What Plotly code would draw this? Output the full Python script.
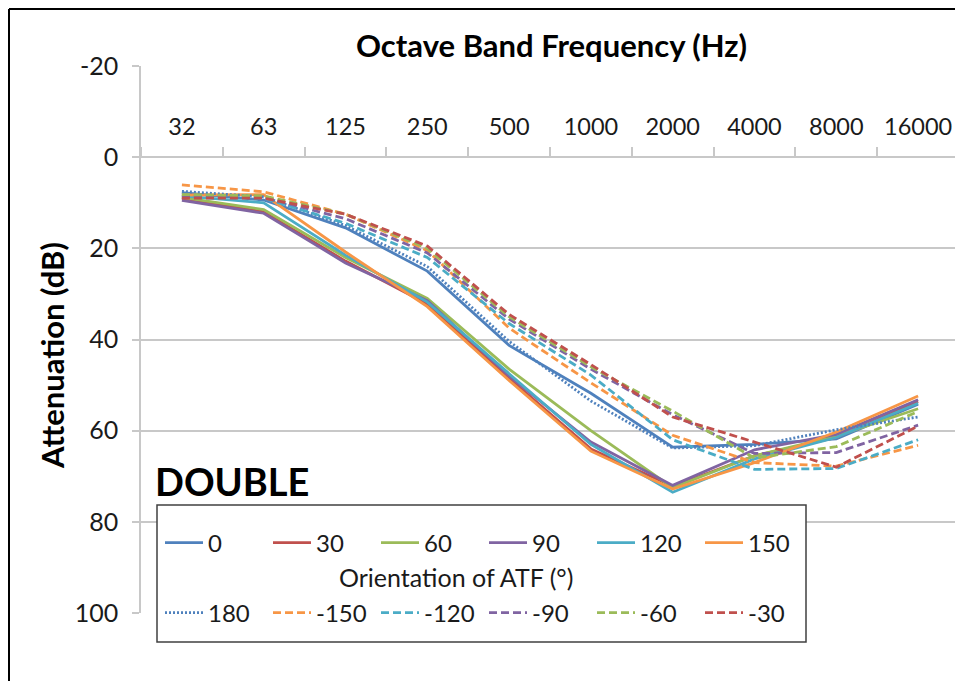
import plotly.graph_objects as go

categories = ["32", "63", "125", "250", "500", "1000", "2000", "4000", "8000", "16000"]

# Attenuation (dB) per orientation of ATF (degrees)
att_0    = [7.8, 9.4, 15.5, 25.0, 41.3, 51.8, 63.6, 63.0, 61.8, 54.2]
att_30   = [9.0, 12.0, 22.8, 32.2, 48.5, 64.0, 72.2, 65.5, 61.5, 53.6]
att_60   = [8.8, 11.5, 22.0, 31.0, 46.5, 60.0, 72.5, 65.5, 61.2, 55.2]
att_90   = [9.5, 12.3, 23.2, 31.5, 48.0, 62.5, 72.0, 64.2, 60.8, 53.2]
att_120  = [8.5, 10.0, 21.5, 31.8, 47.5, 63.0, 73.5, 66.2, 61.5, 54.0]
att_150  = [8.3, 8.2, 20.8, 32.8, 49.0, 64.5, 72.8, 67.0, 60.3, 52.4]
att_180  = [7.5, 8.7, 15.0, 24.0, 40.4, 53.5, 63.8, 63.3, 59.8, 57.0]
att_m150 = [6.1, 7.6, 12.5, 20.5, 37.5, 49.5, 61.0, 67.0, 67.8, 63.2]
att_m120 = [8.3, 9.0, 14.5, 22.0, 36.5, 47.8, 62.0, 68.5, 68.3, 62.0]
att_m90  = [8.6, 8.8, 13.5, 21.0, 35.5, 46.5, 56.5, 65.0, 64.8, 58.8]
att_m60  = [8.2, 8.5, 12.5, 20.0, 35.0, 46.0, 55.7, 66.0, 63.5, 55.8]
att_m30  = [9.0, 9.0, 12.5, 19.5, 34.5, 45.5, 57.0, 62.5, 68.0, 59.0]

y_ticks = [-20, 0, 20, 40, 60, 80, 100]
y_tick_text = ["-20", "0", "20", "40", "60", "80", "100"]

BLUE, RED, GREEN, PURPLE, TEAL, ORANGE = "#4F81BD", "#C0504D", "#9BBB59", "#8064A2", "#4BACC6", "#F79646"
FONT = "Lato"
LW = 2.8

row1 = [("0", att_0, BLUE), ("30", att_30, RED), ("60", att_60, GREEN),
        ("90", att_90, PURPLE), ("120", att_120, TEAL), ("150", att_150, ORANGE)]
row2 = [("180", att_180, BLUE, "2px,2px"), ("-150", att_m150, ORANGE, "8px,4px"),
        ("-120", att_m120, TEAL, "8px,4px"), ("-90", att_m90, PURPLE, "8px,4px"),
        ("-60", att_m60, GREEN, "8px,4px"), ("-30", att_m30, RED, "8px,4px")]

fig = go.Figure()
for name, vals, col in row1:
    fig.add_trace(go.Scatter(x=categories, y=vals, name=name, mode="lines",
                             line=dict(color=col, width=LW), legend="legend"))
for name, vals, col, dash in row2:
    fig.add_trace(go.Scatter(x=categories, y=vals, name=name, mode="lines",
                             line=dict(color=col, width=LW, dash=dash), legend="legend2"))

# page has an 8px body margin; plot area in screenshot pixels: x 141..959, y 66..613
OFF = 8
FW, FH = 963 - OFF, 681 - OFF
PX0, PX1, PY0, PY1 = 141, 959, 66, 613
L = PX0 - OFF
T = PY0 - OFF
R = FW - (PX1 - OFF)
B = FH - (PY1 - OFF)
def px(x): return (x - PX0) / (PX1 - PX0)
def py(y): return (PY1 - y) / (PY1 - PY0)

GRID = "#c8c8c8"
LEG = dict(orientation="h", x=px(160), xanchor="left", yanchor="middle",
           entrywidth=55, entrywidthmode="pixels", itemwidth=38,
           bgcolor="rgba(0,0,0,0)", font=dict(size=24),
           tracegroupgap=0, traceorder="normal")
fig.update_layout(
    width=FW, height=FH,
    margin=dict(l=L, r=R, t=T, b=B),
    paper_bgcolor="white", plot_bgcolor="white",
    font=dict(family=FONT, size=23, color="#1a1a1a"),
    showlegend=True,
    xaxis=dict(type="category", categoryorder="array", categoryarray=categories,
               range=[-0.5, 9.5], side="top", anchor="free", position=py(157),
               showgrid=False, showline=True, linecolor=GRID, linewidth=1.5,
               ticks="outside", tickson="boundaries", ticklen=9, tickcolor=GRID,
               tickwidth=1.5, ticklabelstandoff=12, tickfont=dict(size=23.5),
               zeroline=False),
    yaxis=dict(range=[100, -20], tickvals=y_ticks, ticktext=y_tick_text,
               showgrid=True, gridcolor=GRID,
               gridwidth=1.5, showline=True, linecolor=GRID, linewidth=1.5,
               ticks="outside", ticklen=7, tickcolor=GRID, tickwidth=1.5,
               ticklabelstandoff=9, zeroline=False, tickfont=dict(size=25)),
    legend=dict(LEG, y=py(543)),
    legend2=dict(LEG, y=py(613)),
    shapes=[
        dict(type="rect", xref="paper", yref="paper", x0=px(157), x1=px(806),
             y0=py(642), y1=py(505), line=dict(color="#404040", width=1.5),
             fillcolor="white", layer="above"),
        dict(type="line", xref="paper", yref="paper", x0=px(9), x1=px(9),
             y0=py(9), y1=py(700), line=dict(color="black", width=2)),
        dict(type="line", xref="paper", yref="paper", x0=px(9), x1=px(975),
             y0=py(9), y1=py(9), line=dict(color="black", width=2)),
    ],
    annotations=[
        dict(text="<b>Octave Band Frequency (Hz)</b>", xref="paper", yref="paper",
             x=px(551), y=py(45), xanchor="center", yanchor="middle", showarrow=False,
             font=dict(size=31, color="black")),
        dict(text="<b>Attenuation (dB)</b>", xref="paper", yref="paper",
             x=px(52), y=py(356), xanchor="center", yanchor="middle", showarrow=False,
             textangle=-90, font=dict(size=31, color="black")),
        dict(text="<b>DOUBLE</b>", xref="paper", yref="paper",
             x=px(153), y=py(481), xanchor="left", yanchor="middle", showarrow=False,
             font=dict(size=38, color="black")),
        dict(text="Orientation of ATF (°)", xref="paper", yref="paper",
             x=px(456), y=py(577), xanchor="center", yanchor="middle", showarrow=False,
             font=dict(size=25)),
    ],
)

fig.write_html("out.html", config={"displayModeBar": False})
